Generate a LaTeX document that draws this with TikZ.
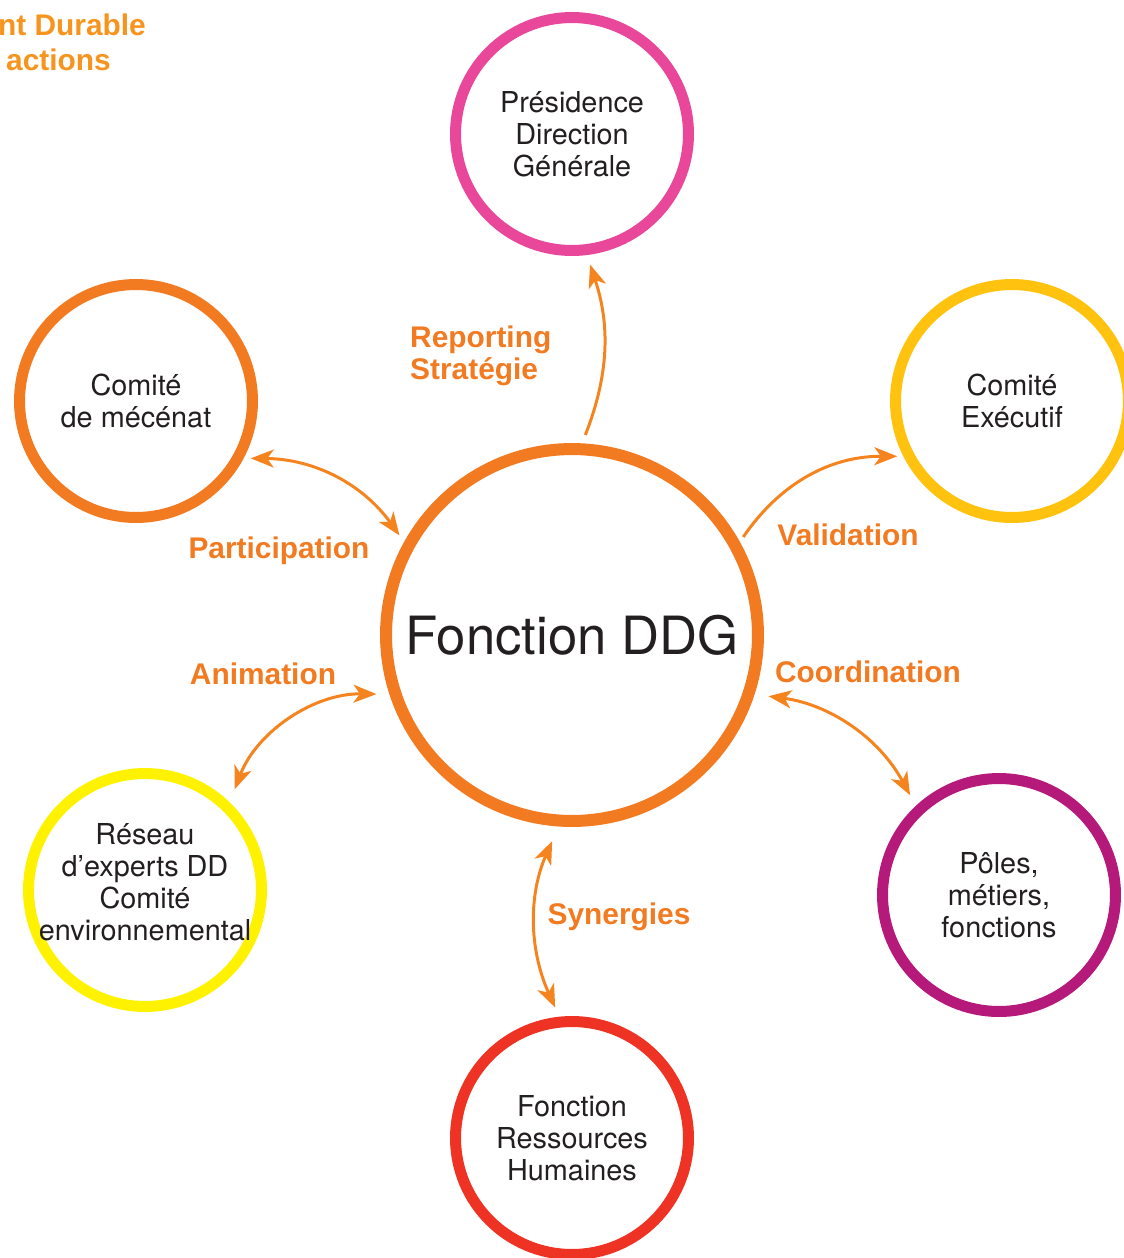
\documentclass[tikz,border=0pt]{standalone}
\usepackage{fontspec}
\setmainfont{TeX Gyre Heros}
\newfontfamily\labfont{Liberation Sans}
\usetikzlibrary{arrows.meta}
\definecolor{ink}{HTML}{231F20}
\definecolor{orng}{HTML}{F27A21}
\definecolor{arrw}{HTML}{F5841F}
\definecolor{amber}{HTML}{F7941D}
\definecolor{pink}{HTML}{E8479A}
\definecolor{gold}{HTML}{FFC20E}
\definecolor{lemon}{HTML}{FFF200}
\definecolor{plum}{HTML}{B5197A}
\definecolor{red}{HTML}{EE3224}
\tikzset{
  txt/.style={align=center, text=ink, font=\fontsize{16.4}{18.2}\selectfont},
  ring/.style={circle, draw=#1, line width=0.22cm, minimum size=4.66cm, inner sep=0pt, txt},
  core/.style={circle, draw=orng, line width=0.24cm, minimum size=7.44cm, inner sep=0pt,
    text=ink, font=\fontsize{30}{34}\selectfont},
  link/.style={draw=arrw, line width=1.7pt, -{Stealth[length=0.46cm, width=0.36cm, inset=0.13cm]}},
  twoway/.style={link, {Stealth[length=0.46cm, width=0.36cm, inset=0.13cm]}-{Stealth[length=0.46cm, width=0.36cm, inset=0.13cm]}},
  lab/.style={text=orng, font=\labfont\bfseries\fontsize{17}{18}\selectfont},
}
\begin{document}
\begin{tikzpicture}[x=0.02cm, y=-0.02cm]
  \useasboundingbox (0,0) rectangle (1124,1258);
  % circles
  \node[core] (ddg) at (572,635) {Fonction DDG};
  \node[ring=pink] (pres) at (572,134) {Présidence\\Direction\\Générale};
  \node[ring=orng] (mecenat) at (136,401) {Comité\\de mécénat};
  \node[ring=gold] (comex) at (1012,401) {Comité\\Exécutif};
  \node[ring=lemon] (reseau) at (145,890) {};
  \node[txt] (reseautxt) at (145,882) {Réseau\\d’experts DD\\Comité\\environnemental};
  \node[ring=plum] (poles) at (999,895) {Pôles,\\métiers,\\fonctions};
  \node[ring=red] (rh) at (572,1138) {Fonction\\Ressources\\Humaines};
  % links
  \draw[link, shorten <=0.18cm, shorten >=0.2cm] (ddg.87) to[bend right=20] (pres.-83);
  \draw[twoway, shorten <=0.14cm, shorten >=0.16cm] (mecenat.-28) to[bend left=27] (ddg.151);
  \draw[link, shorten <=0.12cm, shorten >=0.12cm] (ddg.29) to[bend left=28] (comex.207);
  \draw[twoway, shorten <=0.26cm, shorten >=0.28cm] (ddg.198) to[bend right=35] (reseau.46);
  \draw[twoway, shorten <=0.28cm, shorten >=0.24cm] (ddg.-18) to[bend left=27] (poles.133);
  \draw[twoway, shorten <=0.32cm, shorten >=0.2cm] (ddg.266) to[bend right=24] (rh.96);
  % labels
  \node[lab, align=left, anchor=west] (reporting) at (404,356) {Reporting\\Stratégie};
  \node[lab] (participation) at (279,551) {Participation};
  \node[lab] (validation) at (848,535) {Validation};
  \node[lab] (animation) at (263,674) {Animation};
  \node[lab] (coordination) at (868,672) {Coordination};
  \node[lab] (synergies) at (619,917) {Synergies};
  \node[lab, text=amber, anchor=east] (durable) at (152,25) {nt Durable};
  \node[lab, text=amber, anchor=east] (actions) at (117,60) {actions};
\end{tikzpicture}
\end{document}
